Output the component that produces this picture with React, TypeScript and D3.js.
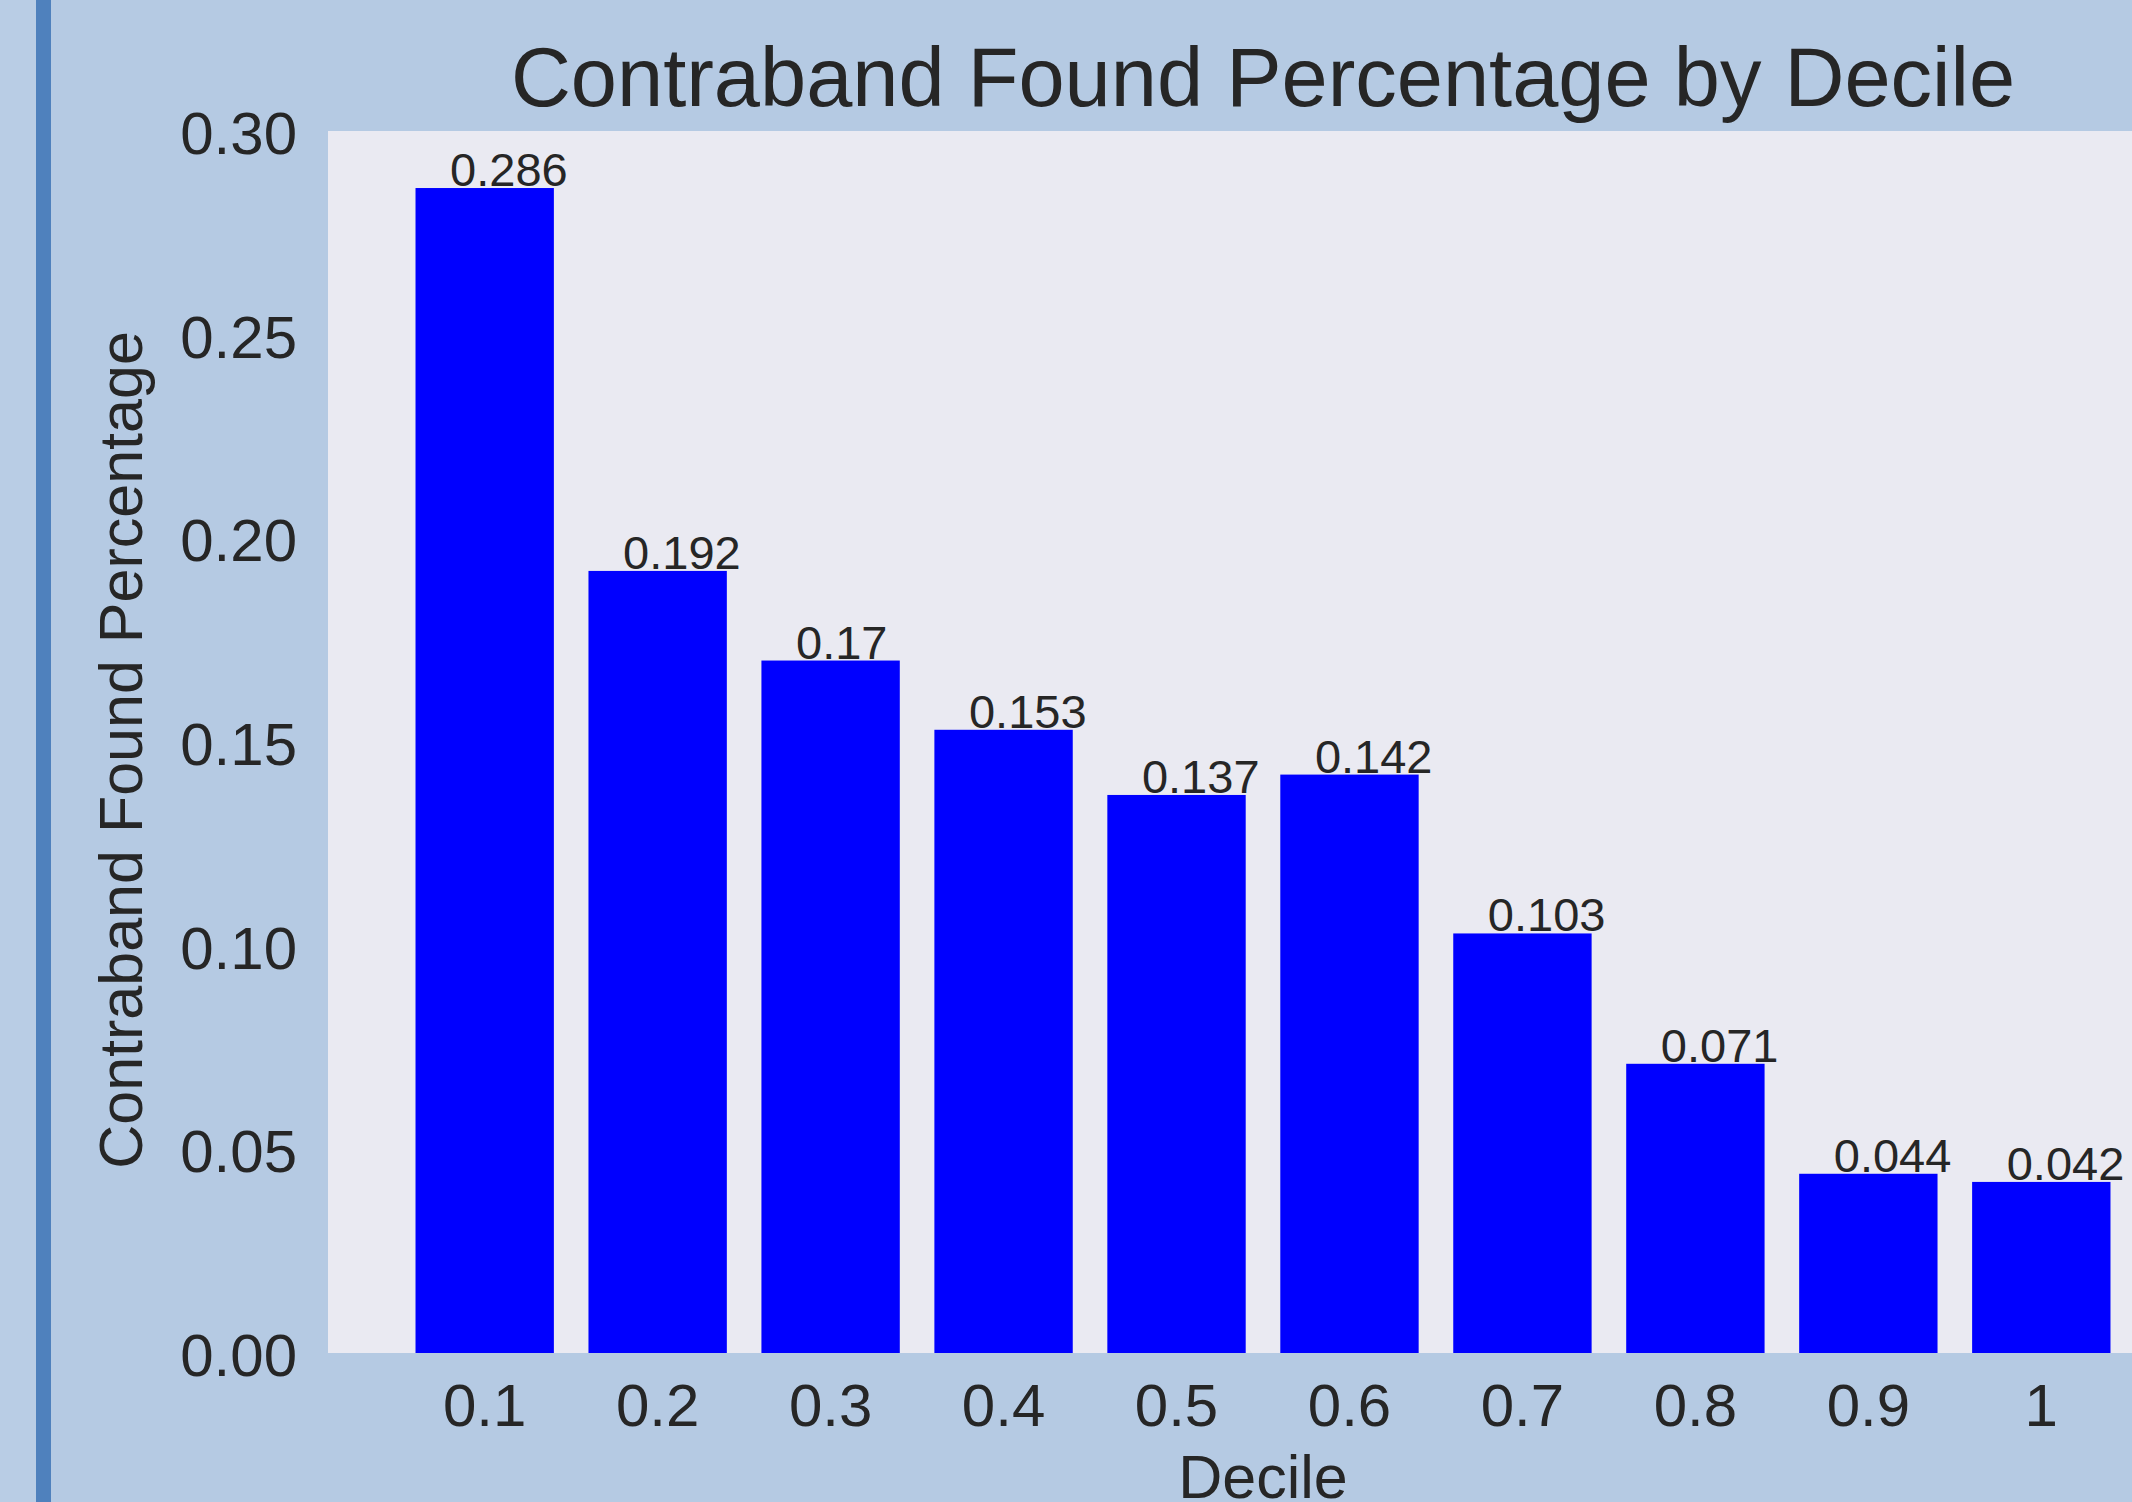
import React from "react";
import * as d3 from "d3";

const deciles = ["0.1", "0.2", "0.3", "0.4", "0.5", "0.6", "0.7", "0.8", "0.9", "1"];
const contrabandPct = [0.286, 0.192, 0.17, 0.153, 0.137, 0.142, 0.103, 0.071, 0.044, 0.042];
const valueLabels = ["0.286", "0.192", "0.17", "0.153", "0.137", "0.142", "0.103", "0.071", "0.044", "0.042"];
const yTicks = [0, 0.05, 0.1, 0.15, 0.2, 0.25, 0.3];

const W = 2132;
const H = 1502;
const plot = { left: 328, top: 131, bottom: 1353, right: 2198 };
const FONT = "'Liberation Sans', Arial, Helvetica, sans-serif";
const TEXT = "#262626";

export default function App() {
  const x = d3.scaleLinear().domain([-0.906, 9.906]).range([plot.left, plot.right]);
  const y = d3.scaleLinear().domain([0, 0.3]).range([plot.bottom, plot.top]);
  const step = x(1) - x(0);
  const bw = step * 0.8;
  const fmt = d3.format(".2f");

  return (
    <svg
      width={W}
      height={H}
      style={{ position: "absolute", left: 0, top: 0, display: "block" }}
      fontFamily={FONT}
    >
      <rect x={0} y={0} width={W} height={H} fill="#b5cae3" />
      <rect x={0} y={0} width={36} height={H} fill="#b9cde5" />
      <rect x={36} y={0} width={15} height={H} fill="#4f81bd" />
      <rect
        x={plot.left}
        y={plot.top}
        width={W - plot.left}
        height={plot.bottom - plot.top}
        fill="#eaeaf2"
      />
      {contrabandPct.map((v, i) => (
        <rect
          key={i}
          x={x(i) - bw / 2}
          y={y(v)}
          width={bw}
          height={y(0) - y(v)}
          fill="#0000ff"
        />
      ))}
      {contrabandPct.map((v, i) => (
        <text
          key={"l" + i}
          x={x(i - 0.2)}
          y={y(v) - 2}
          fontSize={47}
          fill={TEXT}
        >
          {valueLabels[i]}
        </text>
      ))}
      {yTicks.map((t) => (
        <text
          key={"y" + t}
          x={297}
          y={y(t) + 23}
          fontSize={60}
          textAnchor="end"
          fill={TEXT}
        >
          {fmt(t)}
        </text>
      ))}
      {deciles.map((d, i) => (
        <text
          key={"x" + i}
          x={x(i)}
          y={1426}
          fontSize={60}
          textAnchor="middle"
          fill={TEXT}
        >
          {d}
        </text>
      ))}
      <text
        x={(plot.left + plot.right) / 2}
        y={1498}
        fontSize={61}
        textAnchor="middle"
        fill={TEXT}
      >
        Decile
      </text>
      <text
        transform={`translate(142, ${(plot.top + plot.bottom) / 2 + 8}) rotate(-90)`}
        fontSize={61}
        textAnchor="middle"
        fill={TEXT}
      >
        Contraband Found Percentage
      </text>
      <text
        x={(plot.left + plot.right) / 2}
        y={106}
        fontSize={83}
        textAnchor="middle"
        fill={TEXT}
      >
        Contraband Found Percentage by Decile
      </text>
    </svg>
  );
}
